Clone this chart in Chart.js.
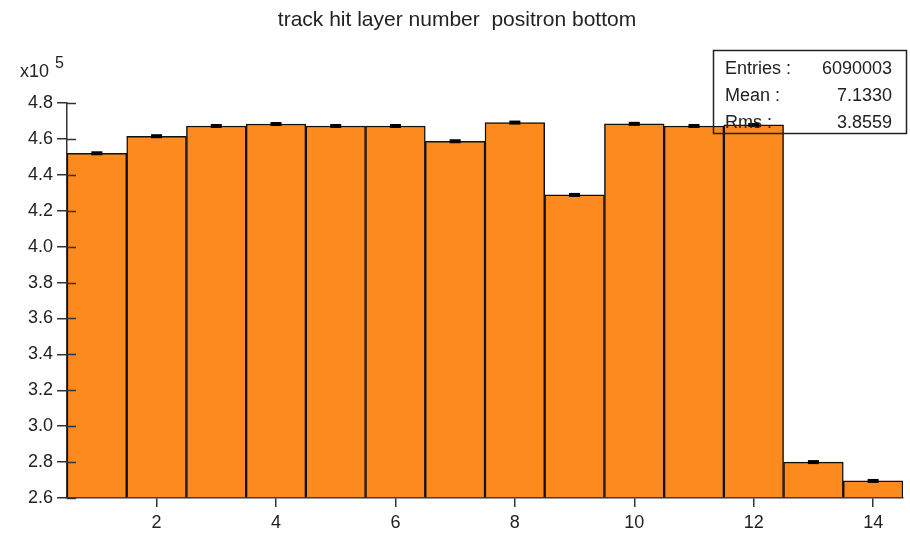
<!DOCTYPE html>
<html>
<head>
<meta charset="utf-8">
<script src="https://cdn.jsdelivr.net/npm/chart.js@4.4.1/dist/chart.umd.min.js"></script>
<style>
  html, body { margin: 0; padding: 0; background: #fff; }
  #wrap { width: 910px; height: 535px; position: relative; }
</style>
</head>
<body>
<div id="wrap"><canvas id="histChart"></canvas></div>
<script>
// ========== HISTOGRAM DATA (values in units of 1e5) ==========
const binCenters = [1, 2, 3, 4, 5, 6, 7, 8, 9, 10, 11, 12, 13, 14];
const binCounts = [4.520, 4.615, 4.672, 4.683, 4.672, 4.672, 4.587, 4.691, 4.288, 4.684, 4.672, 4.678, 2.800, 2.695];
const xTickValues = [2, 4, 6, 8, 10, 12, 14];
const yTickValues = [2.6, 2.8, 3.0, 3.2, 3.4, 3.6, 3.8, 4.0, 4.2, 4.4, 4.6, 4.8];
const statLabels = ['Entries :', 'Mean :', 'Rms :'];
const statValues = ['6090003', '7.1330', '3.8559'];
const chartTitle = 'track hit layer number  positron bottom';

const SCALE = 1e5;
const TEXT_COLOR = '#222';
const FONT = 'Liberation Sans, Arial, sans-serif';

// ========== EXTRA DRAWING (title, exponent, error bars, stats box) ==========
const histDecor = {
  id: 'histDecor',
  afterDatasetsDraw(chart) {
    const ctx = chart.ctx;
    const xs = chart.scales.x;
    const ys = chart.scales.y;
    const area = chart.chartArea;

    // error bars: sqrt(N) in the same 1e5 units
    ctx.save();
    ctx.fillStyle = '#000';
    binCenters.forEach((c, i) => {
      const err = Math.sqrt(binCounts[i] * SCALE) / SCALE;
      const px = xs.getPixelForValue(c);
      const top = ys.getPixelForValue(binCounts[i] + err);
      const bot = ys.getPixelForValue(binCounts[i] - err);
      const h = Math.max(bot - top, 4);
      ctx.fillRect(px - 5.5, (top + bot) / 2 - h / 2, 11, h);
    });

    // inner part of y ticks (they cross the axis)
    ctx.strokeStyle = '#333';
    ctx.lineWidth = 1.5;
    yTickValues.forEach(v => {
      const py = Math.round(ys.getPixelForValue(v)) + 0.5;
      ctx.beginPath();
      ctx.moveTo(area.left, py);
      ctx.lineTo(area.left + 9, py);
      ctx.stroke();
    });

    // title
    ctx.fillStyle = TEXT_COLOR;
    ctx.font = '21px ' + FONT;
    ctx.textAlign = 'center';
    ctx.textBaseline = 'alphabetic';
    ctx.fillText(chartTitle, 457, 26);

    // exponent label
    ctx.textAlign = 'left';
    ctx.font = '18px ' + FONT;
    ctx.fillText('x10', 20, 77);
    ctx.font = '16px ' + FONT;
    ctx.fillText('5', 55, 68);

    // stats box
    ctx.strokeStyle = '#222';
    ctx.lineWidth = 1.5;
    ctx.strokeRect(713.5, 50.5, 193, 83);
    ctx.font = '18px ' + FONT;
    statLabels.forEach((lab, i) => {
      const y = 74 + i * 27;
      ctx.textAlign = 'left';
      ctx.fillText(lab, 725, y);
      ctx.textAlign = 'right';
      ctx.fillText(statValues[i], 892, y);
    });
    ctx.restore();
  }
};

// ========== CHART ==========
const histCtx = document.getElementById('histChart');

new Chart(histCtx, {
  type: 'bar',
  data: {
    datasets: [{
      label: 'hits',
      data: binCenters.map((c, i) => ({ x: c, y: binCounts[i] })),
      base: 2.6,
      backgroundColor: '#fd8a1f',
      borderColor: '#111',
      borderWidth: 1.5,
      borderSkipped: 'start',
      barPercentage: 1,
      categoryPercentage: 1
    }]
  },
  options: {
    responsive: true,
    maintainAspectRatio: false,
    animation: false,
    layout: { padding: { top: 103, right: 7, left: 0, bottom: 0 } },
    plugins: {
      legend: { display: false },
      tooltip: { enabled: false }
    },
    scales: {
      x: {
        type: 'linear',
        min: 0.5,
        max: 14.5,
        offset: false,
        afterBuildTicks: scale => { scale.ticks = xTickValues.map(v => ({ value: v })); },
        afterFit: scale => { scale.height = 37; },
        border: { color: '#333', width: 1.5 },
        grid: { drawOnChartArea: false, offset: false, tickLength: 9, color: '#333', lineWidth: 1.5 },
        ticks: { color: TEXT_COLOR, font: { size: 18, family: FONT }, padding: 5, maxRotation: 0 }
      },
      y: {
        min: 2.6,
        max: 4.8,
        afterBuildTicks: scale => { scale.ticks = yTickValues.map(v => ({ value: v })); },
        afterFit: scale => { scale.width = 67; },
        border: { color: '#333', width: 1.5 },
        grid: { drawOnChartArea: false, tickLength: 10, color: '#333', lineWidth: 1.5 },
        ticks: {
          color: TEXT_COLOR,
          font: { size: 18, family: FONT },
          padding: 4,
          callback: v => v.toFixed(1)
        }
      }
    }
  },
  plugins: [histDecor]
});
</script>
</body>
</html>
